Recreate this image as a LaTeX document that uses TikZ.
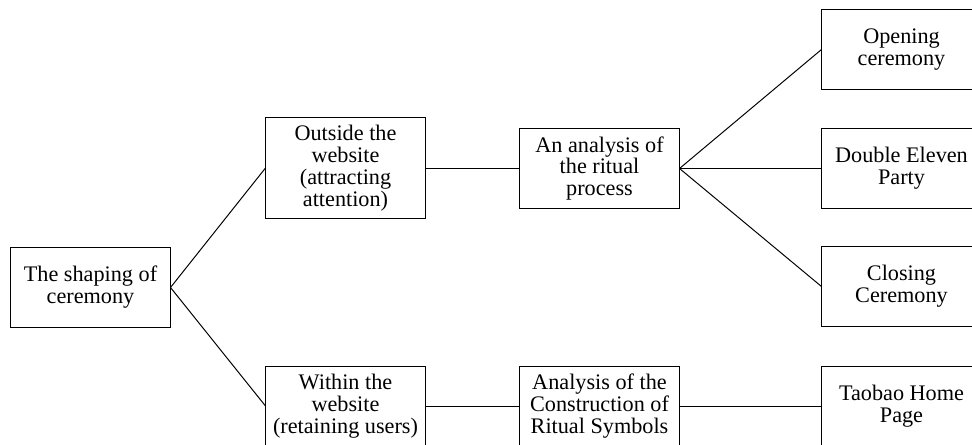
\documentclass[tikz,border=0pt]{standalone}
\usepackage{fontspec}
\setmainfont{Liberation Serif}

\begin{document}
\begin{tikzpicture}[x=0.025cm,y=-0.025cm,
        box/.style={draw,line width=0.7pt,minimum width=3.975cm,minimum height=1.98cm,
            align=center,inner sep=0pt,font=\fontsize{15.8}{15.6}\selectfont},
        tall/.style={box,minimum height=2.5cm},
        link/.style={line width=0.7pt}]
        % Page frame (right and bottom boxes are cut by the edge)
        \clip (0,0) rectangle (972,445);

        % Root on the left
        \node[box] (root) at (90.5,287.5) {The shaping of\\ceremony};

        % Second column
        \node[tall] (outside) at (345.5,168) {Outside the\\website\\(attracting\\attention)};
        \node[box] (within) at (345.5,406) {Within the\\website\\(retaining users)};

        % Third column
        \node[box] (ritual) at (599.5,168.5) {An analysis of\\the ritual\\process};
        \node[box] (symbols) at (599.5,406) {Analysis of the\\Construction of\\Ritual Symbols};

        % Last column
        \node[box] (opening) at (901.5,49.5) {Opening\\ceremony};
        \node[box] (party) at (901.5,168.5) {Double Eleven\\Party};
        \node[box] (closing) at (901.5,286.5) {Closing\\Ceremony};
        \node[box] (taobao) at (901.5,406) {Taobao Home\\Page};

        % Connectors
        \draw[link] (root.east) -- (outside.west);
        \draw[link] (root.east) -- (within.west);
        \draw[link] (outside.east) -- (outside.east -| ritual.west);
        \draw[link] (within.east) -- (symbols.west);
        \draw[link] (ritual.east) -- (opening.west);
        \draw[link] (ritual.east) -- (party.west);
        \draw[link] (ritual.east) -- (closing.west);
        \draw[link] (symbols.east) -- (taobao.west);
    \end{tikzpicture}
\end{document}
